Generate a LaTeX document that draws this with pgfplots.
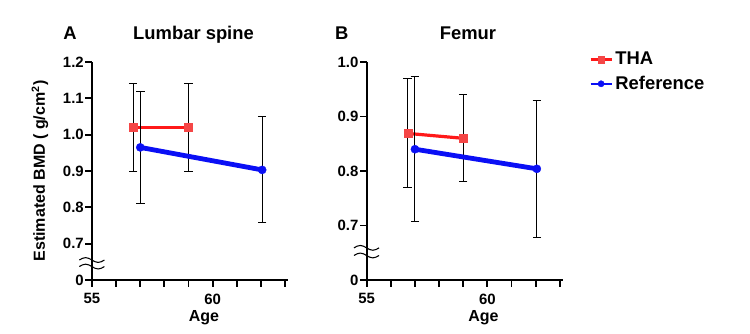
\documentclass[border=0pt]{standalone}
\usepackage{fontspec}
\setmainfont{Liberation Sans}
\usepackage{pgfplots}
\usepackage{pgfplotstable}
\pgfplotsset{compat=1.18}

\definecolor{thared}{RGB}{255,25,25}
\definecolor{thamark}{RGB}{245,70,70}
\definecolor{refblue}{RGB}{10,15,245}

% Estimated BMD by age: mean, upper and lower error
\pgfplotstableread{
age   bmd    up     lo
56.7  1.020  0.120  0.120
59.0  1.020  0.120  0.120
}\spineTHA
\pgfplotstableread{
age    bmd    up     lo
57.0   0.965  0.153  0.153
62.05  0.903  0.147  0.146
}\spineRef
\pgfplotstableread{
age   bmd    up     lo
56.7  0.869  0.101  0.100
59.0  0.860  0.080  0.080
}\femurTHA
\pgfplotstableread{
age    bmd    up     lo
57.0   0.840  0.133  0.133
62.05  0.804  0.126  0.126
}\femurRef

\pgfplotsset{
  bmdpanel/.style={
    scale only axis,
    width=147pt, height=163.5pt,
    axis x line*=bottom, axis y line*=left,
    axis line style={line width=1.7pt},
    tick align=outside,
    major tick length=5pt,
    every tick/.style={black, line width=1.4pt},
    xmin=55, xmax=63.12,
    xtick={55,56,...,63},
    xticklabels={55,,,,,60,,,},
    tick label style={font=\fontsize{11.2}{13}\selectfont\bfseries},
    yticklabel style={inner sep=1pt},
    xticklabel style={inner sep=2pt, yshift=-3pt},
    label style={font=\fontsize{12}{14}\selectfont\bfseries},
    clip=false,
  },
  thastyle/.style={thared, line width=2.4pt, mark=square*, mark size=3pt,
    mark options={fill=thamark, draw=thamark, line width=0.2pt}},
  refstyle/.style={refblue, line width=3.6pt, mark=*, mark size=3.1pt,
    mark options={fill=refblue, draw=refblue, line width=0.2pt}},
  bars/.style={error bars/.cd, y dir=both, y explicit,
    error bar style={black, line width=0.7pt},
    error mark options={black, line width=0.7pt, mark size=3.2pt, rotate=90}},
}

\newcommand{\axisbreak}[1]{%
  \draw[black, line width=0.8pt] ([xshift=-9.5pt]axis cs:55,#1)
    sin ++(4.7pt,1.8pt) cos ++(4.7pt,-1.8pt) sin ++(4.7pt,-1.8pt) cos ++(4.7pt,1.8pt);}

\newcommand{\paneltitle}[2]{%
  \node[font=\fontsize{13.8}{16}\selectfont\bfseries, anchor=base]
    at ([yshift=17.25pt]axis description cs:#1,1) {#2};}

\begin{document}
\begin{tikzpicture}
\useasboundingbox (0,0) rectangle (562.5pt,249.75pt);

% Panel A: lumbar spine
\begin{axis}[bmdpanel,
  at={(69pt,39.75pt)}, anchor=south west,
  ymin=0.6, ymax=1.2,
  ytick={0.6,0.7,0.8,0.9,1.0,1.1,1.2},
  yticklabels={0,0.7,0.8,0.9,1.0,1.1,1.2},
  ylabel={Estimated BMD ( g/cm\textsuperscript{2})},
  ylabel style={at={(axis description cs:-0.265,0.5)}, anchor=center},
  xlabel={Age},
  xlabel style={at={(axis description cs:0.571,0)}, anchor=base, yshift=-31pt},
]
\addplot[thastyle, bars] table[x=age, y=bmd, y error plus=up, y error minus=lo] {\spineTHA};
\addplot[refstyle, bars] table[x=age, y=bmd, y error plus=up, y error minus=lo] {\spineRef};
\axisbreak{0.655}
\axisbreak{0.637}
\paneltitle{-0.112}{A}
\paneltitle{0.518}{Lumbar spine}
\end{axis}

% Panel B: femur
\begin{axis}[bmdpanel,
  at={(275pt,39.75pt)}, anchor=south west,
  ymin=0.6, ymax=1.0,
  ytick={0.6,0.7,0.8,0.9,1.0},
  yticklabels={0,0.7,0.8,0.9,1.0},
  xlabel={Age},
  xlabel style={at={(axis description cs:0.596,0)}, anchor=base, yshift=-31pt},
  legend style={at={(axis description cs:1.115,1.071)}, anchor=north west,
    draw=none, fill=none, row sep=3pt,
    font=\fontsize{13.8}{16}\selectfont\bfseries},
  legend cell align=left,
  legend image code/.code={%
    \draw[mark repeat=2, mark phase=2, #1, line width=1.8pt, mark size=2.4pt]
      plot coordinates {(0cm,0cm) (0.275cm,0cm) (0.55cm,0cm)};},
]
\addplot[thastyle, bars] table[x=age, y=bmd, y error plus=up, y error minus=lo] {\femurTHA};
\addlegendentry{THA}
\addplot[refstyle, bars] table[x=age, y=bmd, y error plus=up, y error minus=lo] {\femurRef};
\addlegendentry{Reference}
\axisbreak{0.659}
\axisbreak{0.645}
\paneltitle{-0.127}{B}
\paneltitle{0.517}{Femur}
\end{axis}
\end{tikzpicture}
\end{document}
